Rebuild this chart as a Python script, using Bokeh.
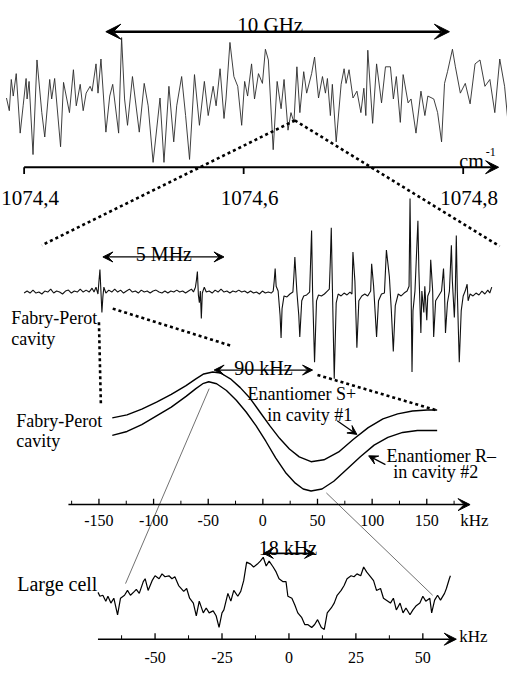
from bokeh.plotting import figure
from bokeh.models import Range1d, Arrow, VeeHead
from bokeh.core.properties import value
from bokeh.embed import file_html
from bokeh.resources import INLINE

# ------------------------------------------------------------------ data
# Top panel: IR spectrum, wavenumber (cm-1) vs signal (a.u.)
top_wavenumber = [
    1074.3839, 1074.3865, 1074.3883, 1074.3901, 1074.3928, 1074.3964, 1074.3991, 1074.4018, 1074.4027, 1074.4045,
    1074.4081, 1074.4117, 1074.4161, 1074.4188, 1074.4233, 1074.4251, 1074.4278, 1074.4332, 1074.4359, 1074.4413,
    1074.4449, 1074.4475, 1074.4511, 1074.4538, 1074.4565, 1074.4601, 1074.4619, 1074.4655, 1074.4673, 1074.4700,
    1074.4745, 1074.4780, 1074.4807, 1074.4861, 1074.4888, 1074.4915, 1074.4942, 1074.4987, 1074.5049, 1074.5094,
    1074.5130, 1074.5175, 1074.5238, 1074.5274, 1074.5319, 1074.5363, 1074.5390, 1074.5435, 1074.5471, 1074.5507,
    1074.5552, 1074.5597, 1074.5642, 1074.5677, 1074.5722, 1074.5749, 1074.5785, 1074.5821, 1074.5839, 1074.5875,
    1074.5911, 1074.5946, 1074.5982, 1074.6009, 1074.6036, 1074.6072, 1074.6099, 1074.6135, 1074.6171, 1074.6198,
    1074.6225, 1074.6269, 1074.6305, 1074.6341, 1074.6368, 1074.6404, 1074.6431, 1074.6458, 1074.6485, 1074.6512,
    1074.6547, 1074.6574, 1074.6619, 1074.6646, 1074.6682, 1074.6718, 1074.6745, 1074.6763, 1074.6790, 1074.6808,
    1074.6843, 1074.6888, 1074.6915, 1074.6933, 1074.6960, 1074.6996, 1074.7032, 1074.7068, 1074.7095, 1074.7113,
    1074.7131, 1074.7175, 1074.7211, 1074.7256, 1074.7292, 1074.7337, 1074.7364, 1074.7391, 1074.7427, 1074.7453,
    1074.7498, 1074.7525, 1074.7570, 1074.7615, 1074.7651, 1074.7678, 1074.7732, 1074.7767, 1074.7803, 1074.7830,
    1074.7857, 1074.7902, 1074.7929, 1074.7974, 1074.8019, 1074.8063, 1074.8108, 1074.8153, 1074.8198, 1074.8243,
    1074.8288, 1074.8333, 1074.8377, 1074.8422]
top_signal = [
    0.68, 0.55, 0.87, 0.70, 0.93, 0.32, 0.60, 0.88, 0.67, 0.85,
    0.10, 1.07, 0.53, 0.28, 0.87, 0.67, 0.88, 0.18, 0.84, 0.53,
    0.97, 0.60, 0.82, 0.55, 0.73, 0.80, 0.75, 1.03, 0.73, 1.08,
    0.33, 0.70, 0.82, 0.32, 1.30, 0.67, 0.40, 0.90, 0.33, 0.83,
    0.60, 0.02, 0.68, 0.02, 0.80, 0.23, 0.60, 0.90, 0.50, 0.05,
    0.92, 0.40, 0.85, 0.50, 0.80, 0.60, 0.98, 0.47, 0.67, 1.25,
    0.90, 0.80, 0.40, 0.85, 0.70, 1.03, 0.67, 0.93, 0.83, 1.18,
    1.07, 0.15, 0.85, 0.57, 0.87, 0.35, 0.53, 0.43, 1.00, 0.53,
    0.95, 0.73, 0.93, 1.10, 0.68, 0.90, 0.73, 0.88, 0.50, 0.82,
    0.23, 0.82, 0.98, 0.83, 0.97, 0.68, 0.75, 0.53, 0.78, 0.50,
    1.17, 0.42, 1.03, 0.63, 1.00, 1.00, 0.67, 0.90, 0.43, 0.92,
    0.63, 0.67, 0.32, 0.75, 0.50, 0.70, 0.67, 0.53, 0.23, 0.83,
    0.95, 1.18, 1.00, 0.73, 0.83, 0.62, 1.03, 1.07, 0.80, 0.87,
    0.53, 1.08, 0.80, 0.27]
top_ticks = [1074.4, 1074.6, 1074.8]
top_tick_labels = ["1074,4", "1074,6", "1074,8"]

# Middle panel: saturation spectrum with Fabry-Perot marks, MHz vs signal (a.u.)
mid_freq_mhz = [
    -3.08, -2.96, -2.84, -2.72, -2.60, -2.48, -2.36, -2.24, -2.12, -2.00,
    -1.88, -1.76, -1.64, -1.52, -1.40, -1.28, -1.16, -1.04, -0.92, -0.80,
    -0.68, -0.56, -0.44, -0.32, -0.24, -0.16, -0.08, -0.04, 0.00, 0.04,
    0.08, 0.12, 0.16, 0.24, 0.36, 0.48, 0.60, 0.72, 0.84, 0.96,
    1.08, 1.20, 1.32, 1.44, 1.56, 1.68, 1.80, 1.92, 2.04, 2.16,
    2.28, 2.40, 2.52, 2.64, 2.76, 2.88, 3.00, 3.12, 3.24, 3.36,
    3.48, 3.60, 3.72, 3.80, 3.88, 3.92, 3.96, 4.00, 4.04, 4.08,
    4.12, 4.16, 4.24, 4.32, 4.44, 4.56, 4.68, 4.80, 4.92, 5.04,
    5.16, 5.28, 5.40, 5.52, 5.64, 5.76, 5.88, 6.00, 6.12, 6.24,
    6.36, 6.48, 6.60, 6.72, 6.84, 6.96, 7.04, 7.08, 7.12, 7.16,
    7.24, 7.32, 7.36, 7.40, 7.48, 7.60, 7.72, 7.84, 7.88, 7.92,
    8.00, 8.08, 8.12, 8.20, 8.28, 8.40, 8.52, 8.56, 8.60, 8.64,
    8.72, 8.80, 8.88, 9.00, 9.12, 9.24, 9.32, 9.36, 9.40, 9.44,
    9.48, 9.52, 9.60, 9.68, 9.80, 9.92, 10.04, 10.16, 10.24, 10.28,
    10.36, 10.44, 10.52, 10.64, 10.76, 10.88, 11.00, 11.04, 11.12, 11.24,
    11.32, 11.44, 11.56, 11.64, 11.76, 11.84, 11.92, 12.00, 12.12, 12.24,
    12.36, 12.48, 12.56, 12.60, 12.64, 12.68, 12.72, 12.80, 12.92, 12.96,
    13.04, 13.08, 13.16, 13.20, 13.28, 13.32, 13.40, 13.44, 13.52, 13.56,
    13.64, 13.76, 13.88, 13.96, 14.00, 14.04, 14.12, 14.20, 14.28, 14.32,
    14.40, 14.44, 14.48, 14.52, 14.60, 14.68, 14.76, 14.84, 14.92, 14.96,
    15.04, 15.16, 15.28, 15.40, 15.52, 15.64, 15.76, 15.84, 15.92]
mid_signal = [
    2, 4, 2, 5, 2, 3, 1, 4, 3, 6,
    2, 4, 3, 1, 4, 5, 2, 4, 3, 6,
    3, 5, 3, 7, 3, 8, 1, 14, 26, 4,
    -18, -2, 8, 2, 5, 3, 6, 3, 5, 2,
    4, 6, 3, 4, 2, 5, 3, 4, 2, 4,
    5, 3, 2, 4, 2, 4, 3, 5, 3, 4,
    2, 4, 6, 3, 8, 15, 24, 0, -8, 4,
    -24, 2, 8, 3, 4, 2, 5, 3, 6, 3,
    4, 2, 4, 3, 5, 3, 4, 2, 4, 2,
    3, 1, 4, 2, 3, 2, 4, 14, 27, 9,
    4, -21, -44, -14, -1, -2, 1, 3, 19, 39,
    4, -21, -43, -6, -1, 0, 3, 34, 66, 4,
    -69, -6, 0, -1, 1, 4, 6, 34, 69, 14,
    -36, -86, -8, 1, -1, 2, 0, 3, 1, 44,
    14, -54, -6, -1, 1, -1, 4, 32, 9, -43,
    -6, 1, 2, 46, 19, -16, -58, -11, 1, -1,
    2, 4, 9, 99, 14, -79, -16, 4, 76, 24,
    -39, 4, -18, 9, -26, -1, 4, 36, 4, -43,
    -6, -1, 4, 27, 4, -39, -8, 4, 51, 14,
    -23, 4, 61, 4, -69, -16, -1, 4, 11, -6,
    1, -1, 2, 0, 4, 1, 5, 2, 8]

# Cavity panel: enantiomers S+ and R- (kHz vs signal a.u.)
cav_freq_s = [-137.8, -124.3, -110.8, -97.3, -83.8, -70.3, -61.3, -54.1, -45.9, -38.7,
              -29.7, -20.7, -11.7, -2.7, 6.3, 15.3, 24.3, 33.3, 44.1, 55.9,
              69.4, 82.9, 96.4, 109.9, 123.4, 136.9, 150.5, 159.5]
cav_signal_s = [90, 93, 99, 106, 114, 123, 130, 135, 137, 136,
                130, 121, 110, 96, 82, 69, 58, 50, 45, 47,
                55, 68, 80, 89, 94, 97, 98, 98]
cav_freq_r = [-137.8, -124.3, -110.8, -97.3, -83.8, -70.3, -61.3, -55.0, -49.5, -42.3,
              -33.3, -24.3, -15.3, -6.3, 2.7, 11.7, 20.7, 29.7, 36.9, 44.1,
              54.1, 64.9, 76.6, 89.2, 101.8, 114.4, 127.9, 141.4, 159.5]
cav_signal_r = [72, 76, 83, 92, 101, 112, 120, 125, 127, 125,
                118, 108, 96, 82, 66, 49, 34, 23, 17, 15,
                17, 25, 37, 50, 62, 70, 75, 77, 77]
cav_ticks = [-150, -100, -50, 0, 50, 100, 150]
cav_tick_labels = ["-150", "-100", "-50", "0", "50", "100", "150"]
cav_minor_ticks = [-175, -125, -75, -25, 25, 75, 125, 175]

# Large cell panel (kHz vs signal a.u.)
cell_freq = [
    -71.3, -70.6, -69.5, -68.4, -67.6, -66.5, -65.4, -64.0, -62.9, -61.4,
    -60.3, -59.2, -57.7, -57.0, -55.9, -54.4, -53.7, -52.6, -51.1, -50.0,
    -48.5, -47.4, -46.3, -44.8, -43.7, -42.6, -41.2, -39.3, -38.2, -37.1,
    -35.7, -34.6, -33.5, -32.0, -30.9, -29.8, -28.3, -27.2, -26.1, -25.0,
    -24.3, -22.8, -21.7, -20.6, -19.1, -18.0, -16.9, -15.8, -14.3, -13.2,
    -11.8, -10.7, -9.6, -8.5, -7.4, -5.9, -4.8, -3.7, -2.2, -1.1,
    -0.4, 1.1, 2.2, 3.3, 4.8, 5.9, 7.0, 8.5, 9.6, 10.7,
    12.1, 13.2, 14.3, 15.8, 16.9, 18.0, 19.5, 20.6, 21.7, 23.2,
    24.3, 25.4, 26.8, 27.9, 29.0, 30.5, 31.6, 32.7, 34.2, 35.3,
    36.4, 37.9, 39.0, 40.1, 41.5, 42.6, 43.7, 45.2, 46.3, 47.4,
    48.9, 50.0, 51.1, 52.6, 53.3, 54.4, 55.5, 56.6, 58.1, 58.8,
    59.9, 60.3]
cell_signal = [
    41, 37, 38, 32, 37, 30, 35, 18, 35, 38,
    43, 38, 42, 44, 40, 52, 55, 43, 53, 58,
    55, 60, 57, 58, 55, 57, 48, 42, 45, 35,
    30, 17, 32, 20, 25, 20, 22, 17, 5, 20,
    23, 40, 32, 43, 37, 42, 53, 72, 70, 67,
    70, 73, 77, 68, 73, 67, 62, 55, 52, 52,
    37, 35, 28, 20, 15, 8, 8, 5, 8, 13,
    5, 3, 20, 25, 30, 38, 43, 48, 55, 58,
    57, 60, 58, 67, 62, 57, 53, 43, 45, 35,
    33, 30, 35, 23, 30, 20, 25, 18, 23, 27,
    30, 37, 32, 35, 20, 33, 38, 33, 40, 45,
    55, 58]
cell_ticks = [-50, -25, 0, 25, 50]
cell_tick_labels = ["-50", "-25", "0", "25", "50"]
cell_minor_ticks = [-62.5, -37.5, -12.5, 12.5, 37.5]

# ------------------------------------------------------------------ layout
W, H = 507, 665
X0, X1 = 6, 521      # drawing canvas extents (reference pixel frame)
Y0, Y1 = 2, 684
FONT = value("Liberation Serif")
INK = "black"


def span(p1, v1, p2, v2, lo, hi):
    b = (v2 - v1) / (p2 - p1)
    return Range1d(start=v1 + b * (lo - p1), end=v1 + b * (hi - p1))


p = figure(width=W, height=H, x_range=Range1d(X0, X1), y_range=Range1d(Y1, Y0),
           x_axis_type=None, y_axis_type=None, output_backend="svg",
           toolbar_location=None, min_border=0, outline_line_color=None,
           background_fill_color="white", border_fill_color="white")

p.extra_x_ranges = {
    "wn": span(30, 1074.4, 476, 1074.8, X0, X1),
    "mhz": span(107, 0.0, 132, 1.0, X0, X1),
    "cav": span(106, -150, 439, 150, X0, X1),
    "cell": span(163, -50, 435, 50, X0, X1),
}
p.extra_y_ranges = {
    "top": span(170, 0.0, 70, 1.0, Y1, Y0),
    "mid": span(304, 0, 204, 100, Y1, Y0),
    "cav": span(520, 0, 420, 100, Y1, Y0),
    "cell": span(650, 0, 550, 100, Y1, Y0),
}


def n2(a, b):
    n = min(len(a), len(b))
    return a[:n], b[:n]


# ---- traces
x, y = n2(top_wavenumber, top_signal)
p.line(x, y, x_range_name="wn", y_range_name="top", line_color="#2a2a2a", line_width=0.9)
x, y = n2(mid_freq_mhz, mid_signal)
p.line(x, y, x_range_name="mhz", y_range_name="mid", line_color="#111111", line_width=1.1)
x, y = n2(cav_freq_s, cav_signal_s)
p.line(x, y, x_range_name="cav", y_range_name="cav", line_color=INK, line_width=1.4)
x, y = n2(cav_freq_r, cav_signal_r)
p.line(x, y, x_range_name="cav", y_range_name="cav", line_color=INK, line_width=1.4)
x, y = n2(cell_freq, cell_signal)
p.line(x, y, x_range_name="cell", y_range_name="cell", line_color=INK, line_width=1.2)


def head(size):
    return VeeHead(size=size, fill_color=INK, line_color=INK, line_width=1)


def arrow(x0, y0, x1, y1, size=10, lw=1.3, both=False):
    p.add_layout(Arrow(x_start=x0, y_start=y0, x_end=x1, y_end=y1,
                       start=head(size) if both else None, end=head(size),
                       line_color=INK, line_width=lw))


def label(x, y, s, size, align="left"):
    p.text(x=[x], y=[y], text=[s], text_font=FONT, text_font_size=size,
           text_align=align, text_baseline="alphabetic", text_color=INK)


# ---- axes (drawn from tick arrays in each panel's own data range)
def ticks(vals, xname, y0, y1, lw=1.3):
    p.segment(x0=vals, y0=[y0] * len(vals), x1=vals, y1=[y1] * len(vals),
              x_range_name=xname, line_color=INK, line_width=lw)


def tick_labels(vals, labs, xname, y, size, dx=0):
    p.text(x=vals, y=[y] * len(vals), text=labs, x_range_name=xname, x_offset=dx,
           text_font=FONT, text_font_size=size, text_align="center",
           text_baseline="alphabetic", text_color=INK)


arrow(30, 173, 512, 173, size=13, lw=2.0)
ticks(top_ticks, "wn", 173, 180, lw=1.8)
tick_labels(top_ticks, top_tick_labels, "wn", 205, "21px", dx=6)
label(472, 167, "cm", "20px")
label(499, 157, "-1", "12px")

arrow(75, 519, 483, 519, size=12, lw=1.5)
ticks(cav_ticks, "cav", 519, 513)
ticks(cav_minor_ticks, "cav", 519, 515, lw=1.0)
tick_labels(cav_ticks, cav_tick_labels, "cav", 535, "16px")
label(473, 535, "kHz", "17px")

arrow(105, 657, 469, 657, size=12, lw=1.5)
ticks(cell_ticks, "cell", 657, 651)
ticks(cell_minor_ticks, "cell", 657, 653, lw=1.0)
tick_labels(cell_ticks, cell_tick_labels, "cell", 676, "16px")
label(472, 654, "kHz", "17px")

# ---- zoom connectors
p.segment(x0=[305, 305, 106, 120, 328], y0=[125, 125, 332, 318, 386],
          x1=[48, 513, 108, 240, 448], y1=[253, 254, 418, 356, 422],
          line_color=INK, line_width=2.6, line_dash="3 3")
p.segment(x0=[218, 337], y0=[400, 507], x1=[133, 445], y1=[600, 612],
          line_color="#333333", line_width=0.7)

# ---- scale bars and pointers
arrow(113, 34, 462, 34, size=15, lw=2.6, both=True)
label(280, 27, "10 GHz", "21px", "center")
arrow(110, 265, 233, 265, size=10, lw=1.3, both=True)
label(172, 262, "5 MHz", "20px", "center")
arrow(223, 381, 323, 381, size=10, lw=1.3, both=True)
label(273, 379, "90 kHz", "20px", "center")
arrow(273, 569, 325, 569, size=10, lw=1.6, both=True)
label(298, 563, "18 kHz", "20px", "center")
arrow(348, 433, 368, 447, size=9, lw=1.2)
arrow(397, 478, 380, 469, size=9, lw=1.2)

# ---- texts
label(17, 328, "Fabry-Perot", "18px")
label(17, 349, "cavity", "18px")
label(22, 433, "Fabry-Perot", "18px")
label(22, 454, "cavity", "18px")
label(257, 406, "Enantiomer S+", "18px")
label(277, 427, "in cavity #1", "18px")
label(398, 469, "Enantiomer R\u2013", "18px")
label(405, 486, "in cavity #2", "18px")
label(23, 600, "Large cell", "20px")

open("out.html", "w").write(file_html(p, INLINE))
